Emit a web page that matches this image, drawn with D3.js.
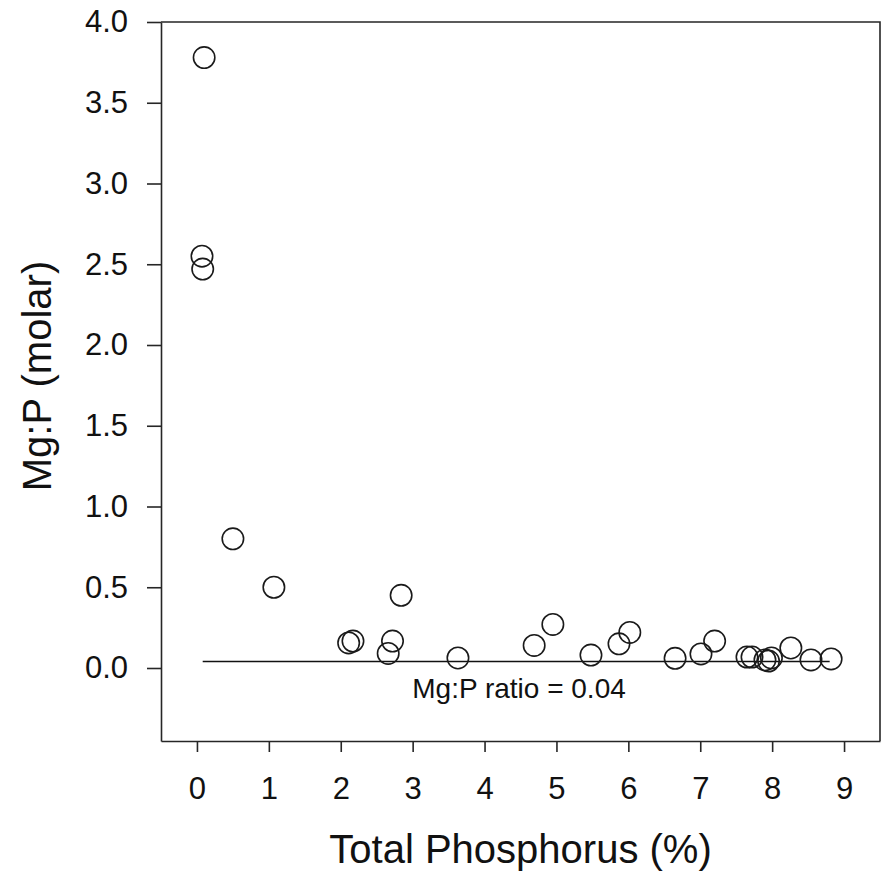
<!DOCTYPE html>
<html>
<head>
<meta charset="utf-8">
<script src="https://cdn.jsdelivr.net/npm/d3@7"></script>
<style>
  body { margin: 0; background: #fff; }
  svg text { font-family: "Liberation Sans", Arial, sans-serif; fill: #111; }
</style>
</head>
<body>
<div id="chart"></div>
<script>
/* --- Data --- */
const totalP = [0.10, 0.07, 0.08, 0.50, 1.07, 2.11, 2.17, 2.66, 2.72, 2.84, 3.63, 4.69, 4.95,
                5.48, 5.87, 6.02, 6.65, 7.01, 7.20, 7.65, 7.72, 7.90, 7.95, 7.99, 8.26, 8.54, 8.82];
const mgP =    [3.78, 2.55, 2.47, 0.80, 0.50, 0.155, 0.167, 0.09, 0.167, 0.45, 0.062, 0.14, 0.27,
                0.08, 0.15, 0.22, 0.06, 0.087, 0.167, 0.068, 0.068, 0.05, 0.043, 0.062, 0.124, 0.05, 0.056];
const xTicks = [0, 1, 2, 3, 4, 5, 6, 7, 8, 9];
const yTicks = [0, 0.5, 1, 1.5, 2, 2.5, 3, 3.5, 4];
const ratio = 0.04;
const ratioLineX = [0.08, 8.8];

const points = totalP.map((x, i) => ({ x, y: mgP[i] }));

/* --- Layout --- */
const W = 888, H = 875;
const plot = { left: 161, top: 22, right: 880, bottom: 741 };
const ink = "#262626";

const svg = d3.select("#chart").append("svg")
    .attr("width", W)
    .attr("height", H);

const x = d3.scaleLinear().domain([-0.5, 9.5]).range([plot.left, plot.right]);
const y = d3.scaleLinear().domain([-0.452, 4.0]).range([plot.bottom, plot.top]);

// Axes
const yAxis = svg.append("g")
    .attr("transform", `translate(${plot.left},0)`)
    .call(d3.axisLeft(y).tickValues(yTicks).tickFormat(d3.format(".1f")).tickSize(14).tickPadding(19).tickSizeOuter(0));

const xAxis = svg.append("g")
    .attr("transform", `translate(0,${plot.bottom})`)
    .call(d3.axisBottom(x).tickValues(xTicks).tickFormat(d3.format("d")).tickSize(11).tickPadding(25).tickSizeOuter(0));

[xAxis, yAxis].forEach(g => {
    g.selectAll("text").style("font-size", "31px").attr("fill", "#111");
    g.selectAll("line").attr("stroke", ink).attr("stroke-width", 1.6);
    g.select(".domain").attr("stroke", ink).attr("stroke-width", 1.6);
});

// Top & right frame
svg.append("path")
    .attr("d", `M${plot.left},${plot.top}H${plot.right}V${plot.bottom}`)
    .attr("fill", "none")
    .attr("stroke", ink)
    .attr("stroke-width", 1.6);

// Ratio line
svg.append("line")
    .attr("x1", x(ratioLineX[0]))
    .attr("x2", x(ratioLineX[1]))
    .attr("y1", y(ratio))
    .attr("y2", y(ratio))
    .attr("stroke", "#111")
    .attr("stroke-width", 1.6);

// Points
svg.append("g").selectAll("circle")
    .data(points)
    .join("circle")
    .attr("cx", d => x(d.x))
    .attr("cy", d => y(d.y))
    .attr("r", 10.7)
    .attr("fill", "none")
    .attr("stroke", "#1a1a1a")
    .attr("stroke-width", 1.6);

// Ratio label
svg.append("text")
    .attr("x", x(4.48))
    .attr("y", y(-0.186))
    .attr("text-anchor", "middle")
    .style("font-size", "28px")
    .text("Mg:P ratio = " + ratio.toFixed(2));

// Axis titles
svg.append("text")
    .attr("x", (plot.left + plot.right) / 2)
    .attr("y", 863)
    .attr("text-anchor", "middle")
    .style("font-size", "40px")
    .text("Total Phosphorus (%)");

svg.append("text")
    .attr("transform", `translate(51,376) rotate(-90)`)
    .attr("text-anchor", "middle")
    .style("font-size", "40px")
    .text("Mg:P (molar)");
</script>
</body>
</html>
